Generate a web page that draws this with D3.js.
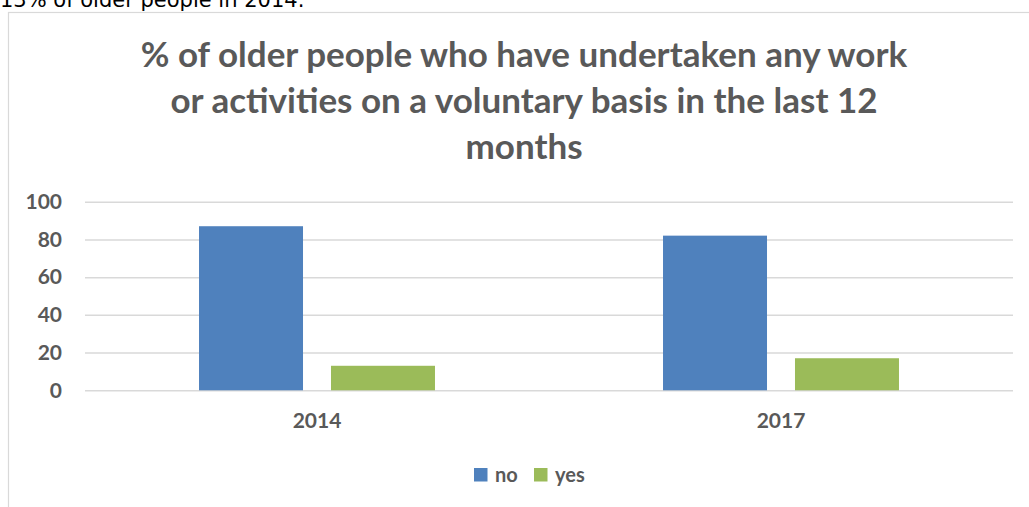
<!DOCTYPE html>
<html>
<head>
<meta charset="utf-8">
<script src="https://cdn.jsdelivr.net/npm/d3@7"></script>
<style>
  html, body { margin: 0; padding: 0; background: #fff; overflow: hidden; }
  svg { display: block; }
</style>
</head>
<body>
<svg id="chart" width="1029" height="507"></svg>
<script>
// Survey results: share of older people doing voluntary work
const years = ["2014", "2017"];
const series = ["no", "yes"];
const noValues = [87, 82];
const yesValues = [13, 17];
const yTicks = [0, 20, 40, 60, 80, 100];
const titleLines = [
  "% of older people who have undertaken any work",
  "or activities on a voluntary basis in the last 12",
  "months"
];
const introText = "13% of older people in 2014.";

const colors = { no: "#4f81bd", yes: "#9bbb59" };
const textColor = "#595959";
const gridColor = "#d9d9d9";
const font = "Lato, 'Open Sans', sans-serif";

const rows = years.map((y, i) => ({ year: y, no: noValues[i], yes: yesValues[i] }));

const svg = d3.select("#chart");

// Running text above the chart frame
svg.append("text")
  .attr("x", 0).attr("y", 7)
  .attr("font-family", "'DejaVu Sans', sans-serif")
  .attr("font-size", 21)
  .attr("fill", "#000")
  .text(introText);

// Chart frame
svg.append("rect")
  .attr("x", 8.5).attr("y", 12.5)
  .attr("width", 1040).attr("height", 520)
  .attr("fill", "#fff")
  .attr("stroke", gridColor)
  .attr("stroke-width", 1.2);

// Title
svg.append("g")
  .selectAll("text")
  .data(titleLines)
  .join("text")
  .attr("x", 524)
  .attr("y", (d, i) => 67 + i * 46)
  .attr("text-anchor", "middle")
  .attr("font-family", font)
  .attr("font-weight", "bold")
  .attr("font-size", 35)
  .attr("fill", textColor)
  .text(d => d);

// Scales
const plot = { left: 85, right: 1013, top: 201.7, bottom: 390.3 };
const x = d3.scaleBand().domain(years).range([plot.left, plot.right]);
const xInner = d3.scaleBand().domain(series)
  .range([0, x.bandwidth()])
  .paddingInner(0.212)
  .paddingOuter(0.864);
const y = d3.scaleLinear().domain([0, 100]).range([plot.bottom, plot.top]);

// Gridlines
const yAxis = d3.axisLeft(y)
  .tickValues(yTicks)
  .tickSize(-(plot.right - plot.left))
  .tickPadding(23);
const gy = svg.append("g")
  .attr("transform", `translate(${plot.left},0)`)
  .call(yAxis);
gy.select(".domain").remove();
gy.selectAll(".tick line")
  .attr("stroke", gridColor)
  .attr("stroke-width", 1.5);
gy.selectAll(".tick text")
  .attr("font-family", font)
  .attr("font-weight", "bold")
  .attr("font-size", 21)
  .attr("fill", textColor);

// Bars
const groups = svg.append("g")
  .selectAll("g")
  .data(rows)
  .join("g")
  .attr("transform", d => `translate(${x(d.year)},0)`);

groups.selectAll("rect")
  .data(d => series.map(s => ({ key: s, value: d[s] })))
  .join("rect")
  .attr("x", d => xInner(d.key))
  .attr("width", xInner.bandwidth())
  .attr("y", d => y(d.value))
  .attr("height", d => y(0) - y(d.value))
  .attr("fill", d => colors[d.key]);

// Category axis labels
const xAxis = d3.axisBottom(x).tickSize(0).tickPadding(23);
const gx = svg.append("g")
  .attr("transform", `translate(0,${plot.bottom})`)
  .call(xAxis);
gx.select(".domain").remove();
gx.selectAll(".tick text")
  .attr("font-family", font)
  .attr("font-weight", "bold")
  .attr("font-size", 21)
  .attr("fill", textColor);

// Legend
const legendItems = [
  { key: "no", x: 474 },
  { key: "yes", x: 534 }
];
const legend = svg.append("g");
const li = legend.selectAll("g")
  .data(legendItems)
  .join("g")
  .attr("transform", d => `translate(${d.x},468)`);
li.append("rect")
  .attr("width", 13.5).attr("height", 13.5)
  .attr("fill", d => colors[d.key]);
li.append("text")
  .attr("x", 21).attr("y", 13.5)
  .attr("font-family", font)
  .attr("font-weight", "bold")
  .attr("font-size", 20)
  .attr("fill", textColor)
  .text(d => d.key);
</script>
</body>
</html>
